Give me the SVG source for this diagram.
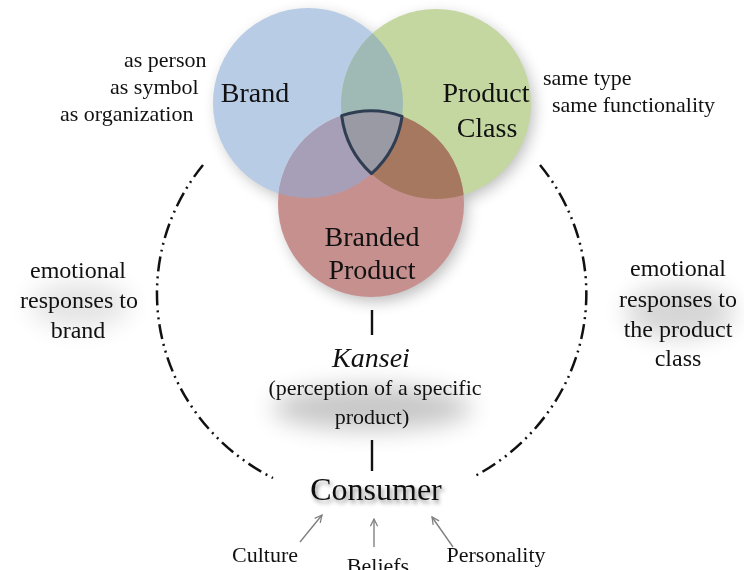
<svg xmlns="http://www.w3.org/2000/svg" width="744" height="570" viewBox="0 0 744 570">
<defs>
<style>
.lbl{font-size:22px}
.big{font-size:24px}
.cir{font-size:28px}
.dd{fill:none;stroke:#111;stroke-width:2.5;stroke-dasharray:15 5 2 5 2 5}
.vl{stroke:#111;stroke-width:2.4}
.ar{stroke:#808080;stroke-width:1.4;fill:none;marker-end:url(#ah)}
</style>
<marker id="ah" viewBox="0 0 10 10" refX="9" refY="5" markerWidth="9" markerHeight="9" orient="auto" markerUnits="userSpaceOnUse">
<path d="M1,1 L9,5 L1,9" fill="none" stroke="#808080" stroke-width="1.4"/>
</marker>
<filter id="nf"><feOffset dx="0" dy="0"/></filter>
<filter id="blur8" x="-50%" y="-50%" width="200%" height="200%"><feGaussianBlur stdDeviation="8"/></filter>
<filter id="blur12" x="-50%" y="-50%" width="200%" height="200%"><feGaussianBlur stdDeviation="12"/></filter>
<filter id="tsh" x="-20%" y="-50%" width="140%" height="200%"><feDropShadow dx="2" dy="3" stdDeviation="2" flood-color="#000" flood-opacity="0.45"/></filter>
<clipPath id="cB"><circle cx="308" cy="103" r="95"/></clipPath>
<clipPath id="cG"><circle cx="436" cy="104" r="95"/></clipPath>
</defs>
<rect width="744" height="570" fill="#fff"/>

<g id="glows">
<ellipse cx="680" cy="312" rx="55" ry="26" fill="#000" opacity="0.16" filter="url(#blur12)"/>
<ellipse cx="80" cy="305" rx="50" ry="24" fill="#000" opacity="0.1" filter="url(#blur12)"/>
<ellipse cx="372" cy="408" rx="100" ry="22" fill="#000" opacity="0.22" filter="url(#blur12)"/>
<g filter="url(#blur8)" opacity="0.28" fill="#000">
<circle cx="312" cy="108" r="93"/>
<circle cx="440" cy="109" r="93"/>
<circle cx="375" cy="210" r="91"/>
</g>
</g>

<g id="brand">
<circle cx="308" cy="103" r="95" fill="#b8cce6"/>
</g>
<g id="product-class">
<circle cx="436" cy="104" r="95" fill="#c4d7a1"/>
</g>
<g id="branded-product">
<circle cx="371" cy="204" r="93" fill="#c6908f"/>
</g>
<g id="overlaps">
<circle cx="436" cy="104" r="95" fill="#9fbab5" clip-path="url(#cB)"/>
<circle cx="371" cy="204" r="93" fill="#a79fb7" clip-path="url(#cB)"/>
<circle cx="371" cy="204" r="93" fill="#a5785f" clip-path="url(#cG)"/>
</g>
<g id="kansei-core">
<path d="M341.7,115.7 A93,93 0 0 1 402.1,116.3 A95,95 0 0 1 371.5,173.7 A95,95 0 0 1 341.7,115.7 Z" fill="#9a9aa5" stroke="#2f3e52" stroke-width="3" stroke-linejoin="round"/>
</g>

<g id="texts" font-family="Liberation Serif, Times New Roman, serif" fill="#111" filter="url(#nf)">
<g id="circle-labels">
<text class="cir" x="255" y="102" text-anchor="middle">Brand</text>
<text class="cir" x="486" y="102" text-anchor="middle">Product</text>
<text class="cir" x="487" y="137" text-anchor="middle">Class</text>
<text class="cir" x="372" y="246" text-anchor="middle">Branded</text>
<text class="cir" x="372" y="279" text-anchor="middle">Product</text>
</g>

<g id="brand-notes">
<text class="lbl" x="124" y="67">as person</text>
<text class="lbl" x="110" y="94">as symbol</text>
<text class="lbl" x="60" y="121">as organization</text>
</g>
<g id="class-notes">
<text class="lbl" x="543" y="85">same type</text>
<text class="lbl" x="552" y="112">same functionality</text>
</g>

<g id="emotional-brand">
<text class="big" text-anchor="middle" x="78" y="278">emotional</text>
<text class="big" text-anchor="middle" x="79" y="308">responses to</text>
<text class="big" text-anchor="middle" x="78" y="338">brand</text>
</g>
<g id="emotional-class">
<text class="big" text-anchor="middle" x="678" y="276">emotional</text>
<text class="big" text-anchor="middle" x="678" y="307">responses to</text>
<text class="big" text-anchor="middle" x="678" y="337">the product</text>
<text class="big" text-anchor="middle" x="678" y="366">class</text>
</g>

<g id="kansei">
<text x="371" y="367" text-anchor="middle" font-size="28" font-style="italic">Kansei</text>
<text x="375" y="395" text-anchor="middle" font-size="22">(perception of a specific</text>
<text x="372" y="424" text-anchor="middle" font-size="22">product)</text>
</g>

<g id="influences">
<text class="lbl" x="265" y="562" text-anchor="middle">Culture</text>
<text class="lbl" x="378" y="573" text-anchor="middle">Beliefs</text>
<text class="lbl" x="496" y="562" text-anchor="middle">Personality</text>
</g>
</g>

<g id="consumer" font-family="Liberation Serif, Times New Roman, serif" fill="#111">
<text x="376" y="500" text-anchor="middle" font-size="32" filter="url(#tsh)">Consumer</text>
</g>

<g id="connectors">
<path class="dd" d="M203,165 A215.5,208 0 0 0 273,478"/>
<path class="dd" d="M540,165 A215.5,208 0 0 1 473,477"/>
<line class="vl" x1="372" y1="310" x2="372" y2="335"/>
<line class="vl" x1="372" y1="440" x2="372" y2="471"/>
<line class="ar" x1="300" y1="542" x2="322" y2="515"/>
<line class="ar" x1="374" y1="547" x2="374" y2="519"/>
<line class="ar" x1="453" y1="547" x2="432" y2="517"/>
</g>
</svg>
